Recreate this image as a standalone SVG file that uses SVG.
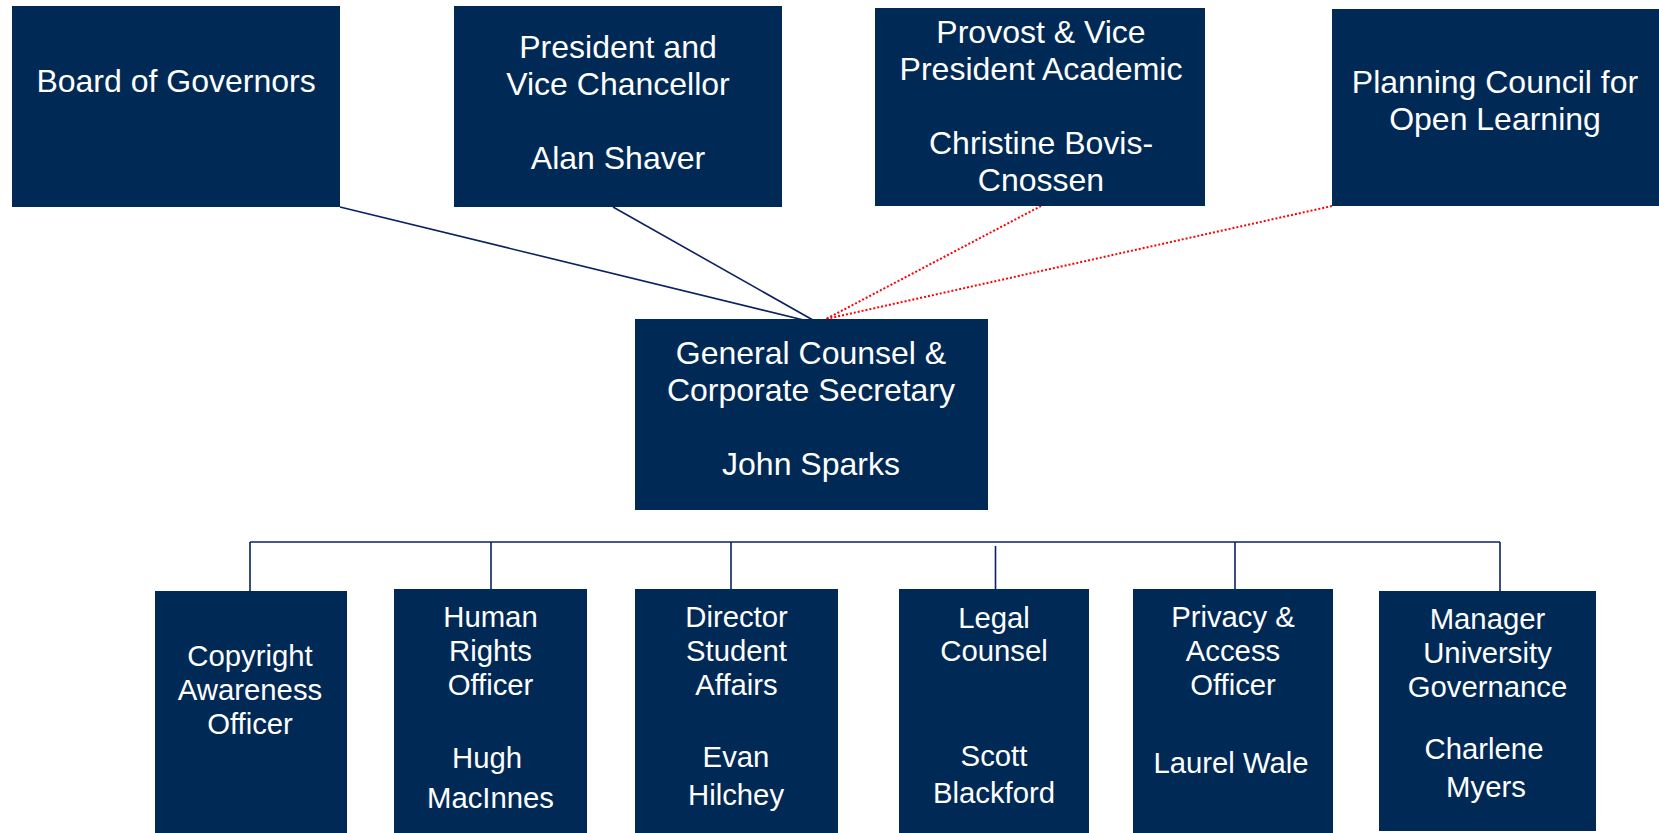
<svg xmlns="http://www.w3.org/2000/svg" width="1659" height="833" viewBox="0 0 1659 833">
<style>
.box{fill:#002A55}
.t{font-family:"Liberation Sans",Arial,sans-serif;fill:#FFFFFF;text-anchor:middle}
.lg{font-size:32px}
.sm{font-size:29.3px}
.ln{stroke:#0B2160;stroke-width:1.6;fill:none}
.dt{stroke:#FF0000;stroke-width:2;stroke-dasharray:2 2;fill:none}
</style>
<rect width="1659" height="833" fill="#FFFFFF"/>
<g id="connectors">
<line class="ln" x1="340" y1="207" x2="820" y2="324"/>
<line class="ln" x1="613" y1="207" x2="820" y2="324"/>
<line class="dt" x1="1041" y1="206" x2="826" y2="319"/>
<line class="dt" x1="1332" y1="206" x2="826" y2="319"/>
<line class="ln" x1="250" y1="542" x2="1500" y2="542"/>
<line class="ln" x1="250" y1="542" x2="250" y2="591"/>
<line class="ln" x1="491" y1="542" x2="491" y2="589"/>
<line class="ln" x1="731" y1="542" x2="731" y2="589"/>
<line class="ln" x1="995.5" y1="546" x2="995.5" y2="589"/>
<line class="ln" x1="1235" y1="542" x2="1235" y2="589"/>
<line class="ln" x1="1500" y1="542" x2="1500" y2="591"/>
</g>
<g id="board">
<rect class="box" x="12" y="6" width="328" height="201"/>
<text class="t lg" x="176" y="92">Board of Governors</text>
</g>
<g id="president">
<rect class="box" x="454" y="6" width="328" height="201"/>
<text class="t lg" x="618" y="58">President and</text>
<text class="t lg" x="618" y="95">Vice Chancellor</text>
<text class="t lg" x="618" y="169">Alan Shaver</text>
</g>
<g id="provost">
<rect class="box" x="875" y="8" width="330" height="198"/>
<text class="t lg" x="1041" y="43">Provost &amp; Vice</text>
<text class="t lg" x="1041" y="80">President Academic</text>
<text class="t lg" x="1041" y="154">Christine Bovis-</text>
<text class="t lg" x="1041" y="191">Cnossen</text>
</g>
<g id="planning">
<rect class="box" x="1332" y="9" width="327" height="197"/>
<text class="t lg" x="1495" y="93">Planning Council for</text>
<text class="t lg" x="1495" y="130">Open Learning</text>
</g>
<g id="general-counsel">
<rect class="box" x="635" y="319" width="353" height="191"/>
<text class="t lg" x="811" y="364">General Counsel &amp;</text>
<text class="t lg" x="811" y="401">Corporate Secretary</text>
<text class="t lg" x="811" y="475">John Sparks</text>
</g>
<g id="copyright">
<rect class="box" x="155" y="591" width="192" height="242"/>
<text class="t sm" x="250" y="666">Copyright</text>
<text class="t sm" x="250" y="700">Awareness</text>
<text class="t sm" x="250" y="734">Officer</text>
</g>
<g id="human-rights">
<rect class="box" x="394" y="589" width="193" height="244"/>
<text class="t sm" x="490.5" y="627">Human</text>
<text class="t sm" x="490.5" y="661">Rights</text>
<text class="t sm" x="490.5" y="695">Officer</text>
<text class="t sm" x="487" y="768">Hugh</text>
<text class="t sm" x="490.5" y="808">MacInnes</text>
</g>
<g id="director">
<rect class="box" x="635" y="589" width="203" height="244"/>
<text class="t sm" x="736.5" y="627">Director</text>
<text class="t sm" x="736.5" y="661">Student</text>
<text class="t sm" x="736.5" y="695">Affairs</text>
<text class="t sm" x="736" y="767">Evan</text>
<text class="t sm" x="736" y="805">Hilchey</text>
</g>
<g id="legal">
<rect class="box" x="899" y="589" width="190" height="244"/>
<text class="t sm" x="994" y="628">Legal</text>
<text class="t sm" x="994" y="661">Counsel</text>
<text class="t sm" x="994" y="766">Scott</text>
<text class="t sm" x="994" y="803">Blackford</text>
</g>
<g id="privacy">
<rect class="box" x="1133" y="589" width="200" height="244"/>
<text class="t sm" x="1233" y="627">Privacy &amp;</text>
<text class="t sm" x="1233" y="661">Access</text>
<text class="t sm" x="1233" y="695">Officer</text>
<text class="t sm" x="1231" y="773">Laurel Wale</text>
</g>
<g id="manager">
<rect class="box" x="1379" y="591" width="217" height="240"/>
<text class="t sm" x="1487.5" y="629">Manager</text>
<text class="t sm" x="1487.5" y="663">University</text>
<text class="t sm" x="1487.5" y="697">Governance</text>
<text class="t sm" x="1484" y="759">Charlene</text>
<text class="t sm" x="1486" y="797">Myers</text>
</g>
</svg>
